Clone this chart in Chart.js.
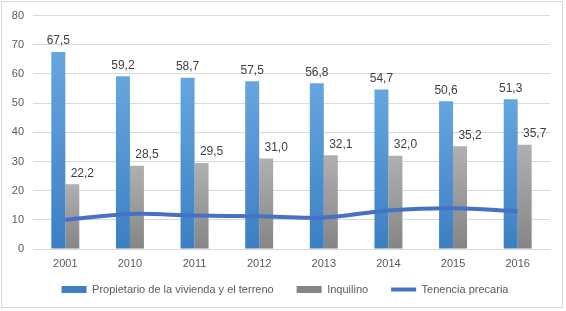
<!DOCTYPE html>
<html>
<head>
<meta charset="utf-8">
<script src="https://cdn.jsdelivr.net/npm/chart.js@4.4.1/dist/chart.umd.min.js"></script>
<style>
  html, body { margin: 0; padding: 0; background: #fff; }
  #contenedor { width: 566px; height: 311px; position: relative; }
</style>
</head>
<body>
<div id="contenedor"><canvas id="graficoTenencia"></canvas></div>
<script>
// datos
const anios = ['2001', '2010', '2011', '2012', '2013', '2014', '2015', '2016'];
const propietario = [67.5, 59.2, 58.7, 57.5, 56.8, 54.7, 50.6, 51.3];
const inquilino = [22.2, 28.5, 29.5, 31.0, 32.1, 32.0, 35.2, 35.7];
const tenenciaPrecaria = [10.0, 12.0, 11.5, 11.2, 10.8, 13.2, 14.0, 12.9];

const fuente = "'Liberation Sans', Arial, sans-serif";

// degradado vertical por barra, como en Excel
function degradado(context, claro, oscuro) {
    const chart = context.chart;
    if (!chart.chartArea || context.type !== 'data') return oscuro;
    const y = chart.scales.y;
    const arriba = y.getPixelForValue(context.raw);
    const abajo = y.getPixelForValue(0);
    const g = chart.ctx.createLinearGradient(0, arriba, 0, abajo);
    g.addColorStop(0, claro);
    g.addColorStop(1, oscuro);
    return g;
}

const etiquetasDatos = {
    id: 'etiquetasDatos',
    afterDatasetsDraw(chart) {
        const ctx = chart.ctx;
        ctx.save();
        ctx.font = '12px ' + fuente;
        ctx.fillStyle = '#404040';
        ctx.textAlign = 'center';
        ctx.textBaseline = 'middle';
        [0, 1].forEach(i => {
            const meta = chart.getDatasetMeta(i);
            const valores = chart.data.datasets[i].data;
            meta.data.forEach((barra, j) => {
                const dx = i === 1 ? 10 : 0;
                ctx.fillText(valores[j].toFixed(1).replace('.', ','), barra.x + dx, barra.y - 11);
            });
        });
        ctx.restore();
    }
};

const marco = {
    id: 'marco',
    beforeDraw(chart) {
        const ctx = chart.ctx;
        ctx.save();
        ctx.fillStyle = '#fff';
        ctx.fillRect(0, 0, chart.width, chart.height);
        ctx.strokeStyle = '#d9d9d9';
        ctx.lineWidth = 1;
        ctx.strokeRect(1.5, 1.5, 561, 306);
        ctx.restore();
    }
};

const ctxTenencia = document.getElementById('graficoTenencia').getContext('2d');
new Chart(ctxTenencia, {
    type: 'bar',
    data: {
        labels: anios,
        datasets: [{
            label: 'Propietario de la vivienda y el terreno',
            data: propietario,
            backgroundColor: c => degradado(c, '#66a6e0', '#3c7fc2'),
            pointStyle: 'rect',
            barPercentage: 1,
            categoryPercentage: 0.433
        }, {
            label: 'Inquilino',
            data: inquilino,
            backgroundColor: c => degradado(c, '#b0b0b0', '#858585'),
            pointStyle: 'rect',
            barPercentage: 1,
            categoryPercentage: 0.433
        }, {
            type: 'line',
            label: 'Tenencia precaria',
            data: tenenciaPrecaria,
            borderColor: '#4472c4',
            backgroundColor: '#4472c4',
            borderWidth: 4,
            tension: 0.35,
            pointRadius: 0,
            pointStyle: 'line',
            order: -1
        }]
    },
    options: {
        responsive: true,
        maintainAspectRatio: false,
        animation: false,
        layout: { padding: { left: 4, right: 0, top: 10, bottom: 6 } },
        plugins: {
            legend: {
                position: 'bottom',
                labels: {
                    usePointStyle: true,
                    pointStyleWidth: 25,
                    boxWidth: 25,
                    boxHeight: 7,
                    padding: 23,
                    color: '#595959',
                    font: { family: fuente, size: 11 },
                    sort: (a, b) => a.datasetIndex - b.datasetIndex
                }
            },
            tooltip: { enabled: false }
        },
        scales: {
            x: {
                grid: { display: false, drawTicks: false },
                border: { color: '#d9d9d9' },
                ticks: { color: '#595959', padding: 8, font: { family: fuente, size: 11 } },
                afterFit: s => {
                    s.height = 12;
                    // que las etiquetas no se recorten al alto del eje
                    s._computeLabelArea = () => undefined;
                }
            },
            y: {
                min: 0,
                max: 80,
                ticks: { stepSize: 10, color: '#595959', padding: 9, font: { family: fuente, size: 11 } },
                grid: { color: '#d9d9d9', drawTicks: false },
                border: { display: false },
                afterFit: s => { s.width = 29; }
            },
            // margen derecho vacio para que la leyenda quede centrada como en el original
            margen: {
                axis: 'y',
                position: 'right',
                ticks: { display: false },
                grid: { display: false, drawTicks: false },
                border: { display: false },
                afterFit: s => { s.width = 16; }
            }
        }
    },
    plugins: [marco, etiquetasDatos]
});
</script>
</body>
</html>
